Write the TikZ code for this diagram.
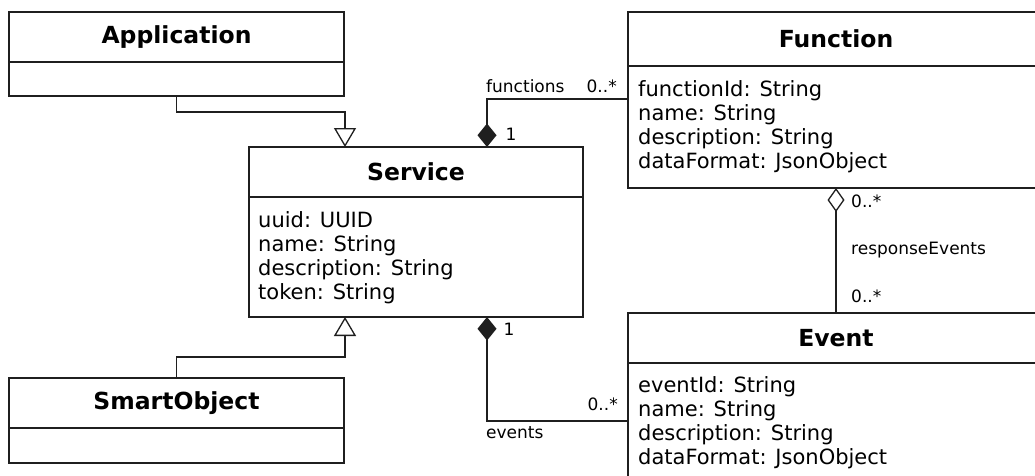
\documentclass[tikz,border=0pt]{standalone}
\usepackage{fontspec}
\setmainfont{DejaVu Sans}
\usetikzlibrary{arrows.meta,calc}

\newcommand{\titlefont}{\fontsize{23.5}{28}\selectfont\bfseries}
\newcommand{\attrfont}{\fontsize{21}{24}\selectfont}
\newcommand{\labelfont}{\fontsize{17}{20}\selectfont}

\tikzset{
  ink/.style={draw=black!88, line width=1.3pt},
  clstitle/.style={ink, rectangle, inner sep=0pt, outer sep=0pt, anchor=north west, font=\titlefont, fill=white},
  clsbody/.style={ink, rectangle, inner sep=0pt, outer sep=0pt, anchor=north, fill=white},
  attr/.style={anchor=base west, inner sep=0pt, font=\attrfont},
  lbl/.style={inner sep=0pt, font=\labelfont},
  gen/.style={ink, -{Triangle[open, length=19pt, width=22pt]}},
  comp/.style={ink, {Diamond[length=23.5pt, width=19pt]}-},
  aggr/.style={ink, {Diamond[open, length=24pt, width=17pt]}-},
}

\begin{document}
\begin{tikzpicture}[x=1pt, y=-1pt]
  \useasboundingbox (0,0) rectangle (1035,475);
  \fill[white] (0,0) rectangle (1035,475);
  \clip (0,0) rectangle (1035,475);

  % Application
  \node[clstitle, minimum width=335, minimum height=50] (app) at (9,12) {Application};
  \node[clsbody, minimum width=335, minimum height=34] (appbody) at (app.south) {};

  % SmartObject
  \node[clstitle, minimum width=335, minimum height=50] (so) at (9,378) {SmartObject};
  \node[clsbody, minimum width=335, minimum height=35] (sobody) at (so.south) {};

  % Service
  \node[clstitle, minimum width=334, minimum height=50] (svc) at (249,147) {Service};
  \node[clsbody, minimum width=334, minimum height=120] (svcbody) at (svc.south) {};
  \node[attr] (svcA) at ($(svcbody.north west)+(9,30)$) {uuid: UUID};
  \node[attr] (svcB) at ($(svcA.base west)+(0,24.3)$) {name: String};
  \node[attr] (svcC) at ($(svcB.base west)+(0,24.3)$) {description: String};
  \node[attr] (svcD) at ($(svcC.base west)+(0,24.3)$) {token: String};

  % Function
  \node[clstitle, minimum width=416, minimum height=54] (fn) at (628,12) {Function};
  \node[clsbody, minimum width=416, minimum height=122] (fnbody) at (fn.south) {};
  \node[attr] (fnA) at ($(fnbody.north west)+(10,30)$) {functionId: String};
  \node[attr] (fnB) at ($(fnA.base west)+(0,24.3)$) {name: String};
  \node[attr] (fnC) at ($(fnB.base west)+(0,24.3)$) {description: String};
  \node[attr] (fnD) at ($(fnC.base west)+(0,24.3)$) {dataFormat: JsonObject};

  % Event
  \node[clstitle, minimum width=416, minimum height=50] (ev) at (628,313) {Event};
  \node[clsbody, minimum width=416, minimum height=122] (evbody) at (ev.south) {};
  \node[attr] (evA) at ($(evbody.north west)+(10,29)$) {eventId: String};
  \node[attr] (evB) at ($(evA.base west)+(0,24.3)$) {name: String};
  \node[attr] (evC) at ($(evB.base west)+(0,24.3)$) {description: String};
  \node[attr] (evD) at ($(evC.base west)+(0,24.3)$) {dataFormat: JsonObject};

  % Generalisations
  \draw[gen] (appbody.south) -- ++(0,16) -| ([xshift=96pt]svc.north west);
  \draw[gen] (so.north) -- ++(0,-21) -| ([xshift=96pt]svcbody.south west);

  % Compositions
  \draw[comp] ([xshift=238pt]svc.north west) |- ([yshift=-33pt]fnbody.north west);
  \draw[comp] ([xshift=238pt]svcbody.south west) |- ([yshift=-58pt]evbody.north west);

  % Aggregation
  \draw[aggr] (fnbody.south) -- (ev.north);

  % Role names and multiplicities
  \node[lbl, anchor=west] (lfn) at (486,86) {functions};
  \node[lbl, anchor=east] (mfn) at (617,86) {0..*};
  \node[lbl] (msvc1) at (511,134) {1};
  \node[lbl] (msvc2) at (509,329) {1};
  \node[lbl, anchor=east] (mev) at (618,404) {0..*};
  \node[lbl, anchor=west] (lev) at (486,433) {events};
  \node[lbl, anchor=west] (mre1) at (851,201) {0..*};
  \node[lbl, anchor=west] (lre) at (851,250) {responseEvents};
  \node[lbl, anchor=west] (mre2) at (851,296) {0..*};
\end{tikzpicture}
\end{document}
